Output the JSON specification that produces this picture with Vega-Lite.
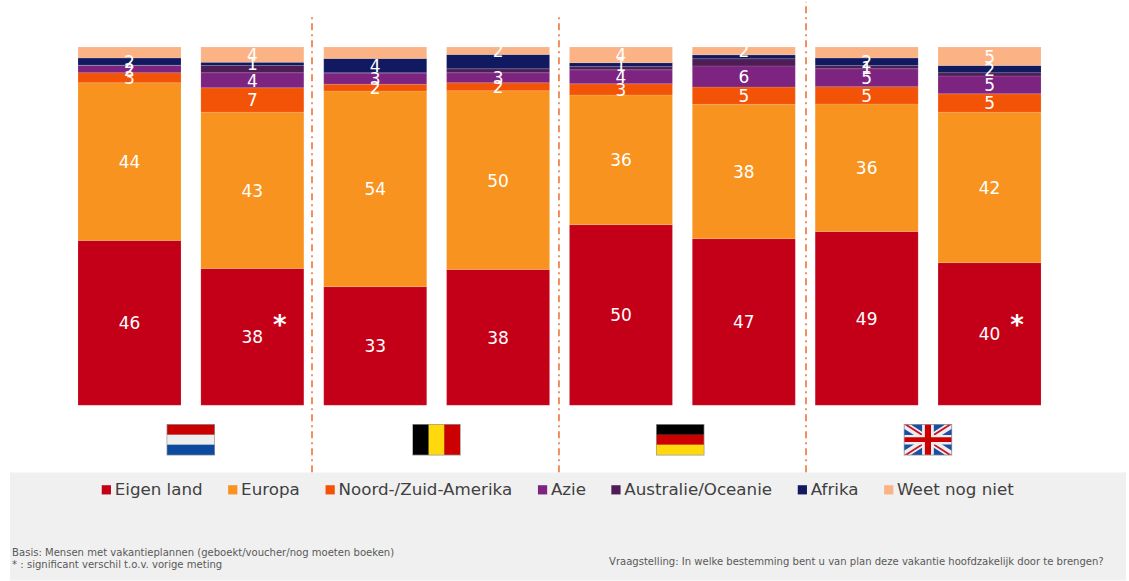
{"$schema":"https://vega.github.io/schema/vega-lite/v6.json","width":1129,"height":581,"padding":0,"autosize":{"type":"fit","contains":"padding"},"background":"#ffffff","config":{"view":{"stroke":null},"font":"DejaVu Sans"},
"datasets":{
"balken":[
{"balk":"NL 1","best":"Eigen land","nr":1,"waarde":46.0,"label":"46"},{"balk":"NL 1","best":"Europa","nr":2,"waarde":44.0,"label":"44"},{"balk":"NL 1","best":"Noord-/Zuid-Amerika","nr":3,"waarde":2.8,"label":"3"},{"balk":"NL 1","best":"Azie","nr":4,"waarde":2.0,"label":"2"},{"balk":"NL 1","best":"Australie/Oceanie","nr":5,"waarde":0.1,"label":""},{"balk":"NL 1","best":"Afrika","nr":6,"waarde":2.0,"label":"2"},{"balk":"NL 1","best":"Weet nog niet","nr":7,"waarde":3.1,"label":""},
{"balk":"NL 2","best":"Eigen land","nr":1,"waarde":38.2,"label":"38"},{"balk":"NL 2","best":"Europa","nr":2,"waarde":43.6,"label":"43"},{"balk":"NL 2","best":"Noord-/Zuid-Amerika","nr":3,"waarde":6.8,"label":"7"},{"balk":"NL 2","best":"Azie","nr":4,"waarde":4.2,"label":"4"},{"balk":"NL 2","best":"Australie/Oceanie","nr":5,"waarde":2.0,"label":""},{"balk":"NL 2","best":"Afrika","nr":6,"waarde":0.9,"label":"1"},{"balk":"NL 2","best":"Weet nog niet","nr":7,"waarde":4.3,"label":"4"},
{"balk":"BE 1","best":"Eigen land","nr":1,"waarde":33.1,"label":"33"},{"balk":"BE 1","best":"Europa","nr":2,"waarde":54.6,"label":"54"},{"balk":"BE 1","best":"Noord-/Zuid-Amerika","nr":3,"waarde":1.9,"label":"2"},{"balk":"BE 1","best":"Azie","nr":4,"waarde":3.1,"label":"3"},{"balk":"BE 1","best":"Australie/Oceanie","nr":5,"waarde":0.1,"label":""},{"balk":"BE 1","best":"Afrika","nr":6,"waarde":4.0,"label":"4"},{"balk":"BE 1","best":"Weet nog niet","nr":7,"waarde":3.2,"label":""},
{"balk":"BE 2","best":"Eigen land","nr":1,"waarde":37.9,"label":"38"},{"balk":"BE 2","best":"Europa","nr":2,"waarde":49.9,"label":"50"},{"balk":"BE 2","best":"Noord-/Zuid-Amerika","nr":3,"waarde":2.2,"label":"2"},{"balk":"BE 2","best":"Azie","nr":4,"waarde":2.8,"label":"3"},{"balk":"BE 2","best":"Australie/Oceanie","nr":5,"waarde":1.1,"label":""},{"balk":"BE 2","best":"Afrika","nr":6,"waarde":4.0,"label":""},{"balk":"BE 2","best":"Weet nog niet","nr":7,"waarde":2.1,"label":"2"},
{"balk":"DE 1","best":"Eigen land","nr":1,"waarde":50.4,"label":"50"},{"balk":"DE 1","best":"Europa","nr":2,"waarde":36.2,"label":"36"},{"balk":"DE 1","best":"Noord-/Zuid-Amerika","nr":3,"waarde":3.1,"label":"3"},{"balk":"DE 1","best":"Azie","nr":4,"waarde":3.9,"label":"4"},{"balk":"DE 1","best":"Australie/Oceanie","nr":5,"waarde":0.9,"label":""},{"balk":"DE 1","best":"Afrika","nr":6,"waarde":1.1,"label":"1"},{"balk":"DE 1","best":"Weet nog niet","nr":7,"waarde":4.4,"label":"4"},
{"balk":"DE 2","best":"Eigen land","nr":1,"waarde":46.5,"label":"47"},{"balk":"DE 2","best":"Europa","nr":2,"waarde":37.5,"label":"38"},{"balk":"DE 2","best":"Noord-/Zuid-Amerika","nr":3,"waarde":4.8,"label":"5"},{"balk":"DE 2","best":"Azie","nr":4,"waarde":5.9,"label":"6"},{"balk":"DE 2","best":"Australie/Oceanie","nr":5,"waarde":2.0,"label":""},{"balk":"DE 2","best":"Afrika","nr":6,"waarde":1.1,"label":""},{"balk":"DE 2","best":"Weet nog niet","nr":7,"waarde":2.2,"label":"2"},
{"balk":"VK 1","best":"Eigen land","nr":1,"waarde":48.5,"label":"49"},{"balk":"VK 1","best":"Europa","nr":2,"waarde":35.6,"label":"36"},{"balk":"VK 1","best":"Noord-/Zuid-Amerika","nr":3,"waarde":4.8,"label":"5"},{"balk":"VK 1","best":"Azie","nr":4,"waarde":5.0,"label":"5"},{"balk":"VK 1","best":"Australie/Oceanie","nr":5,"waarde":0.9,"label":"1"},{"balk":"VK 1","best":"Afrika","nr":6,"waarde":2.1,"label":"2"},{"balk":"VK 1","best":"Weet nog niet","nr":7,"waarde":3.1,"label":""},
{"balk":"VK 2","best":"Eigen land","nr":1,"waarde":39.8,"label":"40"},{"balk":"VK 2","best":"Europa","nr":2,"waarde":42.0,"label":"42"},{"balk":"VK 2","best":"Noord-/Zuid-Amerika","nr":3,"waarde":5.1,"label":"5"},{"balk":"VK 2","best":"Azie","nr":4,"waarde":5.0,"label":"5"},{"balk":"VK 2","best":"Australie/Oceanie","nr":5,"waarde":0.9,"label":""},{"balk":"VK 2","best":"Afrika","nr":6,"waarde":2.0,"label":"2"},{"balk":"VK 2","best":"Weet nog niet","nr":7,"waarde":5.2,"label":"5"}
],
"vlaggen":[
{"balk":"NL 1","deel":"nl rand"},{"balk":"NL 1","deel":"nl rood"},{"balk":"NL 1","deel":"nl wit"},{"balk":"NL 1","deel":"nl blauw"},
{"balk":"BE 1","deel":"nl rand"},{"balk":"BE 1","deel":"be zwart"},{"balk":"BE 1","deel":"be geel"},{"balk":"BE 1","deel":"be rood"},
{"balk":"DE 1","deel":"de rand"},{"balk":"DE 1","deel":"de zwart"},{"balk":"DE 1","deel":"de rood"},{"balk":"DE 1","deel":"de geel"},
{"balk":"VK 1","deel":"nl rand"},{"balk":"VK 1","deel":"vk blauw"},{"balk":"VK 1","deel":"vk diag wit 1"},{"balk":"VK 1","deel":"vk diag wit 2"},{"balk":"VK 1","deel":"vk diag rood 1"},{"balk":"VK 1","deel":"vk diag rood 2"},{"balk":"VK 1","deel":"vk kruis wit"},{"balk":"VK 1","deel":"vk kruis rood"}
]},
"layer":[
{"data":{"values":[{"paneel":"voet"}]},"mark":{"type":"point","filled":true,"opacity":1,"size":1245456,"shape":"M-1,-0.0968H1V0.0968H-1Z","color":"#f0f0f0"},"encoding":{"x":{"datum":"BE 2","bandPosition":1.179,"axis":null,"scale":{"type":"band","domain":["NL 1","NL 2","BE 1","BE 2","DE 1","DE 2","VK 1","VK 2"],"paddingInner":0.1617,"paddingOuter":0.6755,"align":0.47}},"y":{"datum":-33.8,"axis":null,"scale":{"domain":[-48.75,113.09],"nice":false,"zero":false}}}},
{"data":{"name":"balken"},"mark":{"type":"bar","stroke":"#ffffff","strokeOpacity":0.25,"strokeWidth":0.5},"encoding":{
"x":{"field":"balk","type":"nominal","axis":null,"scale":{"type":"band","domain":["NL 1","NL 2","BE 1","BE 2","DE 1","DE 2","VK 1","VK 2"],"paddingInner":0.1617,"paddingOuter":0.6755,"align":0.47}},
"y":{"field":"waarde","type":"quantitative","stack":"zero","axis":null,"scale":{"domain":[-48.75,113.09],"nice":false,"zero":false}},
"order":{"field":"nr","type":"quantitative"},
"color":{"field":"best","type":"nominal","scale":{"domain":["Eigen land","Europa","Noord-/Zuid-Amerika","Azie","Australie/Oceanie","Afrika","Weet nog niet"],"range":["#C40018","#F7931E","#F25306","#7C2480","#4E1D55","#111A60","#FBB385"]},
"legend":{"orient":"none","legendX":98,"legendY":481,"direction":"horizontal","columns":7,"title":null,"symbolType":"square","symbolSize":85,"symbolStrokeWidth":0,"labelFontSize":16.7,"labelFont":"DejaVu Sans","labelColor":"#404040","labelLimit":400,"columnPadding":21.4,"labelOffset":0,"padding":0}}}},
{"data":{"name":"balken"},"mark":{"type":"text","color":"#ffffff","fontSize":17,"baseline":"middle","align":"center","dy":1.5},"encoding":{
"x":{"field":"balk","type":"nominal","axis":null,"scale":{"type":"band","domain":["NL 1","NL 2","BE 1","BE 2","DE 1","DE 2","VK 1","VK 2"],"paddingInner":0.1617,"paddingOuter":0.6755,"align":0.47}},
"y":{"field":"waarde","type":"quantitative","stack":"zero","bandPosition":0.5,"axis":null,"scale":{"domain":[-48.75,113.09],"nice":false,"zero":false}},
"order":{"field":"nr","type":"quantitative"},
"text":{"field":"label","type":"nominal"}}},
{"data":{"values":[{"balk":"NL 2","ster":"*","hoogte":22.2},{"balk":"VK 2","ster":"*","hoogte":22.2}]},"mark":{"type":"text","color":"#ffffff","fontSize":26,"fontWeight":"bold","baseline":"middle","align":"center","dx":27.5},"encoding":{"x":{"field":"balk","type":"nominal","axis":null,"scale":{"type":"band","domain":["NL 1","NL 2","BE 1","BE 2","DE 1","DE 2","VK 1","VK 2"],"paddingInner":0.1617,"paddingOuter":0.6755,"align":0.47}},"y":{"field":"hoogte","type":"quantitative","axis":null,"scale":{"domain":[-48.75,113.09],"nice":false,"zero":false}},"text":{"field":"ster","type":"nominal"}}},
{"data":{"values":[{"lijn":"NL|BE"}]},"mark":{"type":"rule","color":"#EE6A2C","strokeWidth":1.5,"strokeDash":[7,4,2,4]},"encoding":{"x":{"datum":"NL 2","bandPosition":1.079,"axis":null,"scale":{"type":"band","domain":["NL 1","NL 2","BE 1","BE 2","DE 1","DE 2","VK 1","VK 2"],"paddingInner":0.1617,"paddingOuter":0.6755,"align":0.47}},"y":{"datum":-18.7,"axis":null,"scale":{"domain":[-48.75,113.09],"nice":false,"zero":false}},"y2":{"datum":108.9}}},
{"data":{"values":[{"lijn":"BE|DE"}]},"mark":{"type":"rule","color":"#EE6A2C","strokeWidth":1.5,"strokeDash":[7,4,2,4]},"encoding":{"x":{"datum":"BE 2","bandPosition":1.091,"axis":null,"scale":{"type":"band","domain":["NL 1","NL 2","BE 1","BE 2","DE 1","DE 2","VK 1","VK 2"],"paddingInner":0.1617,"paddingOuter":0.6755,"align":0.47}},"y":{"datum":-18.7,"axis":null,"scale":{"domain":[-48.75,113.09],"nice":false,"zero":false}},"y2":{"datum":108.9}}},
{"data":{"values":[{"lijn":"DE|VK"}]},"mark":{"type":"rule","color":"#EE6A2C","strokeWidth":1.5,"strokeDash":[7,4,2,4]},"encoding":{"x":{"datum":"DE 2","bandPosition":1.104,"axis":null,"scale":{"type":"band","domain":["NL 1","NL 2","BE 1","BE 2","DE 1","DE 2","VK 1","VK 2"],"paddingInner":0.1617,"paddingOuter":0.6755,"align":0.47}},"y":{"datum":-18.7,"axis":null,"scale":{"domain":[-48.75,113.09],"nice":false,"zero":false}},"y2":{"datum":112.6}}},
{"data":{"name":"vlaggen"},"mark":{"type":"point","filled":true,"opacity":1,"size":2209,"strokeWidth":0},"encoding":{
"x":{"field":"balk","type":"nominal","bandPosition":1.095,"axis":null,"scale":{"type":"band","domain":["NL 1","NL 2","BE 1","BE 2","DE 1","DE 2","VK 1","VK 2"],"paddingInner":0.1617,"paddingOuter":0.6755,"align":0.47}},
"y":{"datum":-9.6,"axis":null,"scale":{"domain":[-48.75,113.09],"nice":false,"zero":false}},
"shape":{"field":"deel","type":"nominal","legend":null,"scale":{"domain":["nl rand","nl rood","nl wit","nl blauw","be zwart","be geel","be rood","de rand","de zwart","de rood","de geel","vk blauw","vk diag wit 1","vk diag wit 2","vk diag rood 1","vk diag rood 2","vk kruis wit","vk kruis rood"],
"range":["M-1.03,-0.67H1.03V0.67H-1.03Z","M-1,-0.638H1V-0.213H-1Z","M-1,-0.213H1V0.213H-1Z","M-1,0.213H1V0.638H-1Z","M-1,-0.638H-0.333V0.638H-1Z","M-0.333,-0.638H0.333V0.638H-0.333Z","M0.333,-0.638H1V0.638H0.333Z","M-1.115,-0.67H0.945V0.67H-1.115Z","M-1.085,-0.638H0.915V-0.213H-1.085Z","M-1.085,-0.213H0.915V0.213H-1.085Z","M-1.085,0.213H0.915V0.638H-1.085Z","M-1,-0.638H1V0.638H-1Z","M-1,-0.638L-0.72,-0.638L1,0.46L1,0.638L0.72,0.638L-1,-0.46Z","M1,-0.638L0.72,-0.638L-1,0.46L-1,0.638L-0.72,0.638L1,-0.46Z","M-1,-0.638L-0.86,-0.638L0,-0.09L0,0L-1,-0.638ZM1,0.638L0.86,0.638L0,0.09L0,0Z","M1,-0.638L0.86,-0.638L0,-0.09L0,0ZM-1,0.638L-0.86,0.638L0,0.09L0,0Z","M-0.25,-0.638H0.25V-0.2H1V0.2H0.25V0.638H-0.25V0.2H-1V-0.2H-0.25Z","M-0.13,-0.638H0.13V-0.1H1V0.1H0.13V0.638H-0.13V0.1H-1V-0.1H-0.13Z"]}},
"fill":{"field":"deel","type":"nominal","legend":null,"scale":{"domain":["nl rand","nl rood","nl wit","nl blauw","be zwart","be geel","be rood","de rand","de zwart","de rood","de geel","vk blauw","vk diag wit 1","vk diag wit 2","vk diag rood 1","vk diag rood 2","vk kruis wit","vk kruis rood"],
"range":["#9a9a9a","#C80000","#EEEEEE","#0B4A9E","#000000","#FFD90C","#CC0000","#9a9a9a","#000000","#CC0000","#FFD90C","#1A4FA3","#EEEEEE","#EEEEEE","#CC1020","#CC1020","#EEEEEE","#CC0000"]}}}},
{"data":{"values":[{"tekst":"Basis: Mensen met vakantieplannen (geboekt/voucher/nog moeten boeken)","hoogte":-41.2},{"tekst":"* : significant verschil t.o.v. vorige meting","hoogte":-44.6}]},"mark":{"type":"text","align":"left","baseline":"middle","fontSize":10.05,"color":"#595959"},"encoding":{"x":{"datum":"NL 1","bandPosition":-0.64,"axis":null,"scale":{"type":"band","domain":["NL 1","NL 2","BE 1","BE 2","DE 1","DE 2","VK 1","VK 2"],"paddingInner":0.1617,"paddingOuter":0.6755,"align":0.47}},"y":{"field":"hoogte","type":"quantitative","axis":null,"scale":{"domain":[-48.75,113.09],"nice":false,"zero":false}},"text":{"field":"tekst","type":"nominal"}}},
{"data":{"values":[{"tekst":"Vraagstelling: In welke bestemming bent u van plan deze vakantie hoofdzakelijk door te brengen?"}]},"mark":{"type":"text","align":"left","baseline":"middle","fontSize":10.05,"color":"#595959"},"encoding":{"x":{"datum":"DE 1","bandPosition":0.384,"axis":null,"scale":{"type":"band","domain":["NL 1","NL 2","BE 1","BE 2","DE 1","DE 2","VK 1","VK 2"],"paddingInner":0.1617,"paddingOuter":0.6755,"align":0.47}},"y":{"datum":-43.7,"axis":null,"scale":{"domain":[-48.75,113.09],"nice":false,"zero":false}},"text":{"field":"tekst","type":"nominal"}}}
]
}
